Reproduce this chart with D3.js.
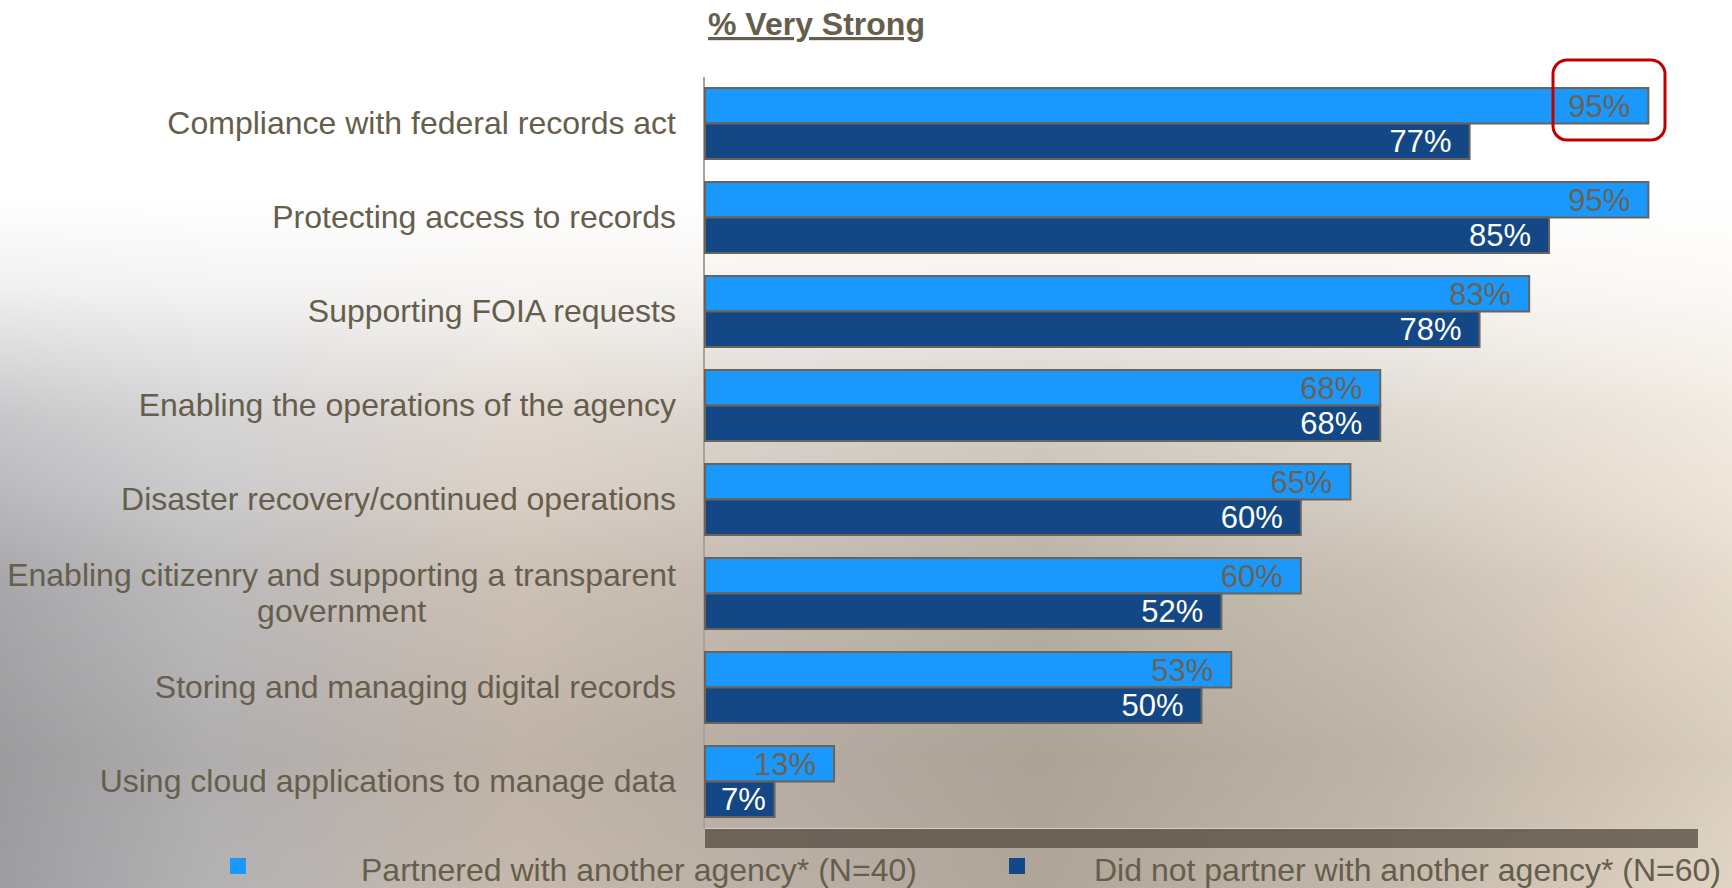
<!DOCTYPE html>
<html>
<head>
<meta charset="utf-8">
<script src="https://cdn.jsdelivr.net/npm/d3@7"></script>
<style>
  html, body { margin: 0; padding: 0; background: #fff; }
  svg { display: block; font-family: "Liberation Sans", Arial, sans-serif; }
</style>
</head>
<body>
<svg id="chart"></svg>
<script>
const categories = [
  "Compliance with federal records act",
  "Protecting access to records",
  "Supporting FOIA requests",
  "Enabling the operations of the agency",
  "Disaster recovery/continued operations",
  "Enabling citizenry and supporting a transparent|government",
  "Storing and managing digital records",
  "Using cloud applications to manage data"
];
const partnered = [95, 95, 83, 68, 65, 60, 53, 13];
const notPartnered = [77, 85, 78, 68, 60, 52, 50, 7];
const seriesNames = ["Partnered with another agency* (N=40)", "Did not partner with another agency* (N=60)"];
const seriesColors = ["#1a98fc", "#134785"];
const labelColors = ["#6a6254", "#ffffff"];

const W = 1732, H = 888;
const svg = d3.select("#chart").attr("width", W).attr("height", H);

// blurred photo background, roughly
const defs = svg.append("defs");
const hg = defs.append("linearGradient").attr("id", "bgH");
[[0, "#a2a2a6"], [0.12, "#b9b8ba"], [0.3, "#cdbfb2"], [0.45, "#c0b6ac"], [0.6, "#b5ab9f"], [0.8, "#c9bfb1"], [0.92, "#ddd0c0"], [1, "#e9ddcd"]]
  .forEach(s => hg.append("stop").attr("offset", s[0]).attr("stop-color", s[1]));
const vg = defs.append("linearGradient").attr("id", "bgV").attr("x2", 0).attr("y2", 1);
[[0, 1], [0.22, 1], [0.32, 0.85], [0.47, 0.4], [0.65, 0.1], [1, 0]]
  .forEach(s => vg.append("stop").attr("offset", s[0]).attr("stop-color", "#fff").attr("stop-opacity", s[1]));
const dg = defs.append("linearGradient").attr("id", "bgD").attr("x2", 0).attr("y2", 1);
[[0, 0], [0.55, 0], [0.85, 0.12], [1, 0.05]]
  .forEach(s => dg.append("stop").attr("offset", s[0]).attr("stop-color", "#4a4038").attr("stop-opacity", s[1]));

svg.append("rect").attr("width", W).attr("height", H).attr("fill", "url(#bgH)");
svg.append("rect").attr("width", W).attr("height", H).attr("fill", "url(#bgD)");
svg.append("rect").attr("width", W).attr("height", H).attr("fill", "url(#bgV)");

const x = d3.scaleLinear().domain([0, 100]).range([705, 1698]);
const y = d3.scaleBand().domain(categories).range([76.5, 828.5])
  .paddingInner(0.245).paddingOuter(0.1225);
const ySub = d3.scaleBand().domain([0, 1]).range([0, y.bandwidth()]);

const rows = categories.map((c, i) => ({ cat: c, vals: [partnered[i], notPartnered[i]] }));

// floor band under plot
svg.append("rect")
  .attr("x", x(0)).attr("y", 829)
  .attr("width", x(100) - x(0)).attr("height", 19)
  .attr("fill", "#5a5046").attr("opacity", 0.8);
svg.append("line")
  .attr("x1", x(0)).attr("x2", x(100)).attr("y1", 828.5).attr("y2", 828.5)
  .attr("stroke", "#d8d0c4").attr("stroke-width", 1);

// axis line
svg.append("line")
  .attr("x1", x(0) - 1).attr("x2", x(0) - 1).attr("y1", 77).attr("y2", 829)
  .attr("stroke", "#a8a29a").attr("stroke-width", 2);

const groups = svg.selectAll(".grp").data(rows).enter().append("g")
  .attr("class", "grp")
  .attr("transform", d => `translate(0,${y(d.cat)})`);

groups.selectAll("rect").data(d => d.vals.map((v, k) => ({ v, k }))).enter().append("rect")
  .attr("x", x(0))
  .attr("y", d => ySub(d.k))
  .attr("width", d => x(d.v) - x(0))
  .attr("height", ySub.bandwidth())
  .attr("fill", d => seriesColors[d.k])
  .attr("stroke", "#6b6357")
  .attr("stroke-width", 2);

groups.selectAll("text.val").data(d => d.vals.map((v, k) => ({ v, k }))).enter().append("text")
  .attr("class", "val")
  .attr("y", d => ySub(d.k) + ySub.bandwidth() - 6.5)
  .attr("text-anchor", "end")
  .attr("font-size", 31)
  .attr("fill", d => labelColors[d.k])
  .text(d => d.v + "%")
  .attr("x", function(d) {
    // inside end, but keep clear of the axis on very short bars
    const tw = this.getComputedTextLength();
    return Math.max(x(d.v) - 18, x(0) + 16 + tw);
  });

// category labels, right edge at 676; wrapped label centred on its widest line
groups.each(function(d) {
  const lines = d.cat.split("|");
  const g = d3.select(this);
  const cy = y.bandwidth() / 2 + 10.5;
  const t = g.append("text").attr("font-size", 32).attr("fill", "#665e4c");
  lines.forEach((l, i) => {
    t.append("tspan").attr("x", 0).attr("y", cy + (i - (lines.length - 1) / 2) * 36).text(l);
  });
  if (lines.length === 1) {
    t.attr("text-anchor", "end").selectAll("tspan").attr("x", 676);
  } else {
    const wMax = d3.max(t.selectAll("tspan").nodes(), n => n.getComputedTextLength());
    t.attr("text-anchor", "middle").selectAll("tspan").attr("x", 676 - wMax / 2);
  }
});

// highlight box
svg.append("rect")
  .attr("x", 1553).attr("y", 60).attr("width", 112).attr("height", 80)
  .attr("rx", 14).attr("fill", "none")
  .attr("stroke", "#c00000").attr("stroke-width", 3);

// title
svg.append("text")
  .attr("x", 708).attr("y", 35)
  .attr("font-size", 32).attr("font-weight", "bold")
  .attr("fill", "#665e4c")
  .style("text-decoration", "underline")
  .text("% Very Strong");

// legend
const legX = [230, 1009], legTX = [361, 1094];
seriesNames.forEach((s, k) => {
  svg.append("rect").attr("x", legX[k]).attr("y", 858).attr("width", 16).attr("height", 16)
    .attr("fill", seriesColors[k]);
  svg.append("text").attr("x", legTX[k]).attr("y", 881)
    .attr("font-size", 32).attr("fill", "#665e4c").text(s);
});
</script>
</body>
</html>
